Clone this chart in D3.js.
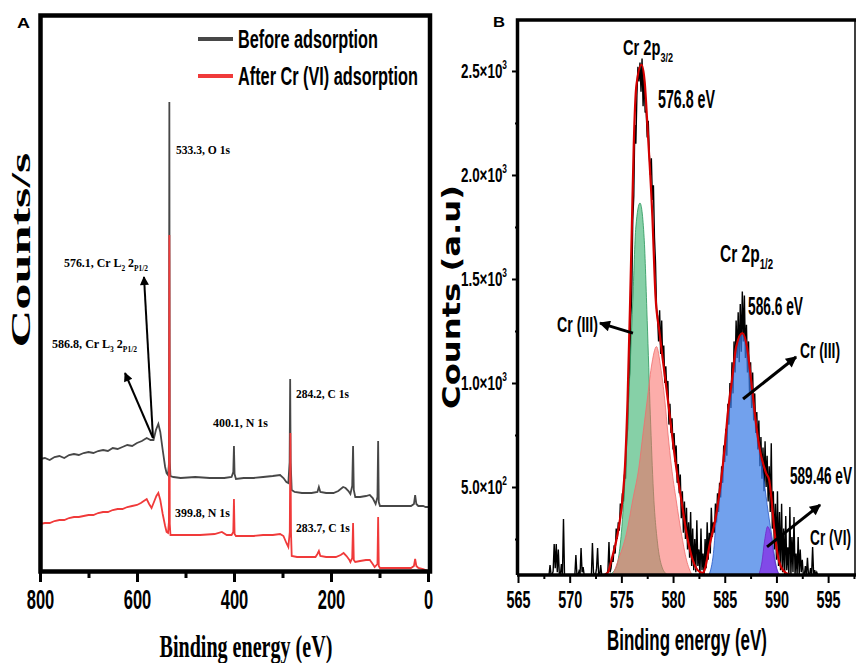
<!DOCTYPE html>
<html>
<head>
<meta charset="utf-8">
<script src="https://cdn.jsdelivr.net/npm/d3@7"></script>
<style>
  body { margin: 0; background: #fff; }
  svg { display: block; }
</style>
</head>
<body>
<svg id="chart" width="856" height="663"></svg>
<script>
// ---- panel A : survey spectra (binding energy eV, counts/s x1000)
const surveyTicks = [800, 600, 400, 200, 0]
const surveyMinor = [700, 500, 300, 100]
const surveyNames = ['Before adsorption', 'After Cr (VI) adsorption']
const surveyBefore = [[800,113],[790,114],[780,112],[770,115],[760,116],[750,114],[740,117],[730,118],[720,117],[710,119],[700,120],[690,119],[680,121],[670,122],[660,121],[650,124],[640,123],[630,125],[620,127],[610,126],[600,129],[590,131],[580,134],[572,132],[566,132],[561,142],[556,148],[552,140],[547,122],[542,105],[539,99],[536,97],[534.2,108],[533.3,470],[532.4,110],[531,96],[525,95],[510,94],[480,95],[450,94],[420,94],[405,95],[401.5,100],[400.1,126],[398.8,98],[396,93],[380,94],[360,94],[340,95],[320,96],[305,97],[298,94],[292,90],[288,89],[285.3,110],[284.2,193],[283.2,110],[281,82],[275,80],[260,79],[240,79],[228,80],[225,85],[222,80],[210,79],[195,79],[185,81],[175,85],[170,84],[164,81],[160,78],[156.3,86],[154.5,126],[153,82],[150,75],[140,75],[128,76],[120,77],[114,74],[108,68],[104.2,75],[102.8,131],[101.5,70],[99,66],[90,66],[70,66],[50,66],[35,66],[29,68],[26.5,77],[24,68],[20,66],[10,66],[5,65],[0,65]]
const surveyAfter = [[800,48],[790,49],[780,49],[770,51],[760,52],[750,52],[740,54],[730,55],[720,55],[710,56],[700,57],[690,57],[680,59],[670,60],[660,60],[650,62],[640,63],[630,63],[620,65],[610,66],[600,67],[592,69],[586,71],[580,73],[575,68],[570,64],[565,70],[560,76],[556,79],[552,72],[547,58],[542,46],[539,40],[536,39],[534.2,50],[533.3,337],[532.4,48],[531,37],[520,37],[500,37],[470,37],[440,38],[425,40],[415,37],[405,37],[401.5,40],[400.1,73],[398.8,38],[396,36],[380,36],[360,36],[340,37],[320,37],[305,38],[298,36],[292,29],[288,25],[285,40],[283.7,139],[282.5,40],[281,16],[270,15],[250,15],[232,15],[228,18],[225,21],[222,16],[210,15],[190,15],[180,17],[174,19],[168,16],[162,12],[160,10],[156.3,14],[154.5,49],[153,12],[150,10],[140,11],[128,12],[120,12],[114,8],[110,5],[104.2,8],[102.8,55],[101.5,6],[99,4],[90,4],[70,4],[50,4],[35,4],[29,6],[26.5,13],[24,6],[20,4],[10,3],[5,2],[0,1]]

// ---- panel B : Cr 2p high resolution (binding energy eV, counts)
const crTicks = [565, 570, 575, 580, 585, 590, 595]
const crMinor = [567.5, 572.5, 577.5, 582.5, 587.5, 592.5, 597.5]
const crYTicks = [500, 1000, 1500, 2000, 2500]
const crYMinor = [250, 750, 1250, 1750, 2250]
const rawStart = 567.8
const rawStep = 0.1
const rawCounts = [
  77,77,77,125,77,77,95,226,110,226,90,200,77,77,130,77,346,77,77,77,   // 567.8 - 569.7
  77,77,77,77,77,77,77,77,173,77,77,95,77,207,90,115,77,77,77,77,       // 569.8 - 571.7
  77,77,77,77,231,90,77,77,110,207,77,77,125,77,77,77,77,77,77,100,     // 571.8 - 573.7
  236,90,110,160,140,220,180,300,250,330,290,420,380,470,430,560,540,720,780,980, // 573.8 - 575.7
  1050,1300,1420,1780,1900,2240,2150,2380,2520,2450,2540,2400,2560,2330,2480,2300,2310,2180,2260,2100, // 575.8 - 577.7
  2000,2080,1880,1950,1700,1580,1360,1320,1200,1350,1140,1300,1100,1180,1000,1080,950,1010,800,900,   // 577.8 - 579.7
  760,830,680,760,620,700,520,610,470,560,350,480,280,430,250,400,200,330,160,380,   // 579.8 - 581.7
  120,300,100,250,90,340,120,200,77,300,100,180,77,250,110,330,150,280,180,400,      // 581.8 - 583.7
  260,330,280,420,330,470,380,520,450,600,520,700,620,780,650,900,800,1000,880,1100, // 583.8 - 585.7
  950,1200,1050,1300,1120,1340,1100,1380,1150,1440,1200,1420,1120,1280,1050,1200,950,1100,880,1050, // 585.8 - 587.7
  820,950,760,860,680,820,600,740,540,690,480,720,500,650,430,600,380,710,300,480,   // 587.8 - 589.7
  200,420,150,480,120,380,100,420,90,300,77,360,100,210,77,404,77,260,90,356,        // 589.8 - 591.7
  77,180,77,260,77,200,90,150,77,77,120,77,160,77,77,110,77,212,77,100,              // 591.8 - 593.7
  77,90,77                                                                            // 593.8 - 594.0
]
const envelope = [[573.4,80],[573.7,90],[574.04,149],[574.65,279],[575.1,438],[575.35,600],[575.6,920],[575.85,1400],[576.0,1720],[576.2,2150],[576.45,2430],[576.95,2530],[577.25,2450],[577.55,2210],[578.0,1800],[578.3,1420],[578.7,1240],[579.5,918],[580.3,596],[580.8,438],[581.3,279],[581.9,149],[582.6,91],[582.9,87],[583.1,110],[583.5,212],[584.2,375],[584.65,534],[585.0,692],[585.3,856],[585.7,1014],[586.1,1173],[586.7,1240],[587.15,1173],[587.55,1014],[587.9,856],[588.35,692],[589.0,567],[589.3,534],[589.5,452],[589.8,293],[590.3,135],[590.9,87],[591.3,80]]
const fitGreen = [[573.9,80],[574.5,115],[575.0,280],[575.4,590],[575.7,910],[576.1,1390],[576.4,1750],[576.8,1865],[577.2,1700],[577.5,1300],[577.8,850],[578.1,480],[578.5,230],[578.9,120],[579.4,80]]
const fitPink = [[574.2,80],[574.7,149],[575.5,279],[576.1,438],[576.7,596],[577.1,760],[577.5,918],[577.9,1077],[578.4,1175],[578.8,1077],[579.2,918],[579.5,760],[579.85,596],[580.3,438],[580.8,279],[581.3,149],[581.8,80]]
const fitBlue = [[583.5,80],[583.9,180],[584.2,360],[584.7,530],[585.0,690],[585.3,850],[585.7,1010],[586.1,1170],[586.7,1235],[587.1,1170],[587.6,1010],[587.9,850],[588.4,680],[588.8,530],[589.2,380],[589.6,250],[589.9,140],[590.2,80]]
const fitPurple = [[588.3,80],[588.6,140],[588.85,240],[589.15,310],[589.45,270],[589.75,170],[590.0,110],[590.3,80]]

const svg = d3.select('#chart')
const narrow = "'Liberation Sans Narrow', 'Arial Narrow', 'Liberation Sans', Arial, sans-serif"
const serif = "'Liberation Serif', 'Times New Roman', serif"

// text helper: parts = [[txt, 'sub'|'sup'|null], ...]
// the whole label is squeezed horizontally (scale) to the wanted width
function rich(g, x, y, parts, size, family, width, anchor) {
    const outer = g.append('g').attr('transform', `translate(${x},${y})`)
    const grp = outer.append('g')
    let cx = 0
    parts.forEach(p => {
        const fs = p[1] ? size * 0.62 : size
        let dy = 0
        if (p[1] === 'sub') dy = size * 0.3
        if (p[1] === 'sup') dy = -size * 0.42
        const t = grp.append('text')
            .attr('x', cx).attr('y', dy)
            .style('font-family', family)
            .style('font-weight', 'bold')
            .style('font-size', fs + 'px')
            .style('white-space', 'pre')
            .attr('fill', '#000')
            .text(p[0])
        cx += t.node().getComputedTextLength()
    })
    const k = width ? width / cx : 1
    let off = 0
    if (anchor === 'middle') off = -cx * k / 2
    if (anchor === 'end') off = -cx * k
    grp.attr('transform', `translate(${off},0) scale(${k},1)`)
    return outer
}

const defs = svg.append('defs')
function arrowMarker(id, w, h) {
    defs.append('marker')
        .attr('id', id)
        .attr('viewBox', '0 0 10 10')
        .attr('refX', 9).attr('refY', 5)
        .attr('markerUnits', 'userSpaceOnUse')
        .attr('markerWidth', w).attr('markerHeight', h)
        .attr('orient', 'auto')
        .append('path').attr('d', 'M0,0 L10,5 L0,10 Z').attr('fill', '#000')
}
arrowMarker('headA', 11, 9)
arrowMarker('headB', 14, 11)

// squeeze axis tick labels around their centre
function squeezeTicks(sel, perChar) {
    sel.each(function (d) {
        const len = this.getComputedTextLength()
        const k = String(d).length * perChar / len
        d3.select(this).attr('transform', `scale(${k},1)`)
    })
}

// =================== panel A ===================
const xA = d3.scaleLinear().domain([800, 0]).range([40, 428])
const yA = d3.scaleLinear().domain([0, 558]).range([572, 14])

defs.append('clipPath').attr('id', 'clipA')
    .append('rect').attr('x', 40).attr('y', 14).attr('width', 390).attr('height', 558)

const gA = svg.append('g')
const lineA = d3.line().x(d => xA(d[0])).y(d => yA(d[1]))
gA.append('path').datum(surveyBefore)
    .attr('d', lineA).attr('fill', 'none')
    .attr('stroke', '#474747').attr('stroke-width', 1.8)
    .attr('clip-path', 'url(#clipA)')
gA.append('path').datum(surveyAfter)
    .attr('d', lineA).attr('fill', 'none')
    .attr('stroke', '#f03a3a').attr('stroke-width', 1.8)
    .attr('clip-path', 'url(#clipA)')

// axis A
const axA = gA.append('g').attr('transform', 'translate(0,572)')
    .call(d3.axisBottom(xA).tickValues(surveyTicks).tickSize(10).tickSizeOuter(0).tickPadding(8))
axA.select('.domain').remove()
axA.selectAll('line').attr('stroke', '#000').attr('stroke-width', 3)
axA.selectAll('text')
    .style('font-family', narrow).style('font-weight', 'bold').style('font-size', '27px')
    .attr('fill', '#000')
    .call(squeezeTicks, 9.2)
const axAm = gA.append('g').attr('transform', 'translate(0,572)')
    .call(d3.axisBottom(xA).tickValues(surveyMinor).tickSize(6).tickSizeOuter(0).tickFormat(''))
axAm.select('.domain').remove()
axAm.selectAll('line').attr('stroke', '#000').attr('stroke-width', 3)

// frame A
gA.append('rect').attr('x', 40.5).attr('y', 15.5).attr('width', 389.5).attr('height', 556)
    .attr('fill', 'none').attr('stroke', '#000').attr('stroke-width', 4.5)

// titles A
rich(svg, 246, 657, [['Binding energy (eV)']], 32, serif, 173, 'middle')
rich(svg, 0, 0, [['Counts/s']], 27, serif, 195, 'middle')
    .attr('transform', 'translate(30,250) rotate(-90)')
rich(svg, 17, 28, [['A']], 14, "'Liberation Sans', Arial, sans-serif", 13)

// legend A
const legA = svg.append('g')
const legColors = ['#474747', '#f03a3a']
surveyNames.forEach((name, i) => {
    const yy = 39 + i * 37
    legA.append('line').attr('x1', 198).attr('x2', 233).attr('y1', yy).attr('y2', yy)
        .attr('stroke', legColors[i]).attr('stroke-width', 4)
    rich(legA, 238, yy + 9, [[name]], 25, narrow, i === 0 ? 140 : 180)
})

// annotations A
const annA = svg.append('g')
rich(annA, xA(519.6), yA(418), [['533.3, O 1s']], 13.5, serif, 54)
rich(annA, xA(750.5), yA(305), [['576.1, Cr L'], ['2', 'sub'], [' 2'], ['P1/2', 'sub']], 13.5, serif, 84)
rich(annA, xA(775.3), yA(224), [['586.8, Cr L'], ['3', 'sub'], [' 2'], ['P1/2', 'sub']], 13.5, serif, 85)
rich(annA, xA(443.3), yA(145), [['400.1, N 1s']], 13.5, serif, 55)
rich(annA, xA(272.2), yA(174), [['284.2, C 1s']], 13.5, serif, 53)
rich(annA, xA(521.6), yA(55), [['399.8, N 1s']], 13.5, serif, 55)
rich(annA, xA(272.2), yA(40), [['283.7, C 1s']], 13.5, serif, 54)
annA.append('line')
    .attr('x1', xA(567)).attr('y1', yA(134)).attr('x2', xA(585.6)).attr('y2', yA(295))
    .attr('stroke', '#000').attr('stroke-width', 2).attr('marker-end', 'url(#headA)')
annA.append('line')
    .attr('x1', xA(567)).attr('y1', yA(134)).attr('x2', xA(624.7)).attr('y2', yA(199))
    .attr('stroke', '#000').attr('stroke-width', 2).attr('marker-end', 'url(#headA)')

// =================== panel B ===================
const xB = d3.scaleLinear().domain([565, 597.6]).range([518, 855])
const yB = d3.scaleLinear().domain([77, 2745]).range([575, 20])

defs.append('clipPath').attr('id', 'clipB')
    .append('rect').attr('x', 518).attr('y', 20).attr('width', 337).attr('height', 555)

const gB = svg.append('g').attr('clip-path', 'url(#clipB)')
const raw = rawCounts.map((v, i) => [rawStart + i * rawStep, v])
gB.append('path').datum(raw)
    .attr('d', d3.line().x(d => xB(d[0])).y(d => yB(d[1])))
    .attr('fill', 'none').attr('stroke', '#000').attr('stroke-width', 1.4)

const areaB = d3.area().curve(d3.curveMonotoneX)
    .x(d => xB(d[0])).y0(yB(77)).y1(d => yB(d[1]))
const fits = [
    { data: fitGreen, fill: 'rgb(60,179,113)', op: 0.62, stroke: 'rgb(40,150,90)' },
    { data: fitPink, fill: 'rgb(250,105,100)', op: 0.55, stroke: 'rgb(240,110,110)' },
    { data: fitBlue, fill: 'rgb(60,125,230)', op: 0.72, stroke: 'rgb(40,90,200)' },
    { data: fitPurple, fill: 'rgb(135,45,230)', op: 0.75, stroke: 'rgb(110,40,200)' }
]
fits.forEach(f => {
    gB.append('path').datum(f.data).attr('d', areaB)
        .attr('fill', f.fill).attr('fill-opacity', f.op)
        .attr('stroke', f.stroke).attr('stroke-opacity', 0.8).attr('stroke-width', 1)
})
gB.append('path').datum(envelope)
    .attr('d', d3.line().curve(d3.curveMonotoneX).x(d => xB(d[0])).y(d => yB(d[1])))
    .attr('fill', 'none').attr('stroke', '#d40000').attr('stroke-width', 2.2)

// axes B
const axB = svg.append('g').attr('transform', 'translate(0,575)')
    .call(d3.axisBottom(xB).tickValues(crTicks).tickSize(8).tickSizeOuter(0).tickPadding(9))
axB.select('.domain').remove()
axB.selectAll('line').attr('stroke', '#000').attr('stroke-width', 2)
axB.selectAll('text')
    .style('font-family', narrow).style('font-weight', 'bold').style('font-size', '23px')
    .attr('fill', '#000')
    .call(squeezeTicks, 8)
const axBm = svg.append('g').attr('transform', 'translate(0,575)')
    .call(d3.axisBottom(xB).tickValues(crMinor).tickSize(4).tickSizeOuter(0).tickFormat(''))
axBm.select('.domain').remove()
axBm.selectAll('line').attr('stroke', '#000').attr('stroke-width', 2)

const ayB = svg.append('g').attr('transform', 'translate(518,0)')
    .call(d3.axisLeft(yB).tickValues(crYTicks).tickSize(6).tickSizeOuter(0).tickFormat(''))
ayB.select('.domain').remove()
ayB.selectAll('line').attr('stroke', '#000').attr('stroke-width', 2)
const ayBm = svg.append('g').attr('transform', 'translate(518,0)')
    .call(d3.axisLeft(yB).tickValues(crYMinor).tickSize(3).tickSizeOuter(0).tickFormat(''))
ayBm.select('.domain').remove()
ayBm.selectAll('line').attr('stroke', '#000').attr('stroke-width', 2)

crYTicks.forEach(v => {
    const ex = Math.floor(Math.log10(v))
    const mant = (v / Math.pow(10, ex)).toFixed(1)
    rich(svg, 507, yB(v) + 7, [[mant + '×10'], [String(ex), 'sup']], 21, narrow, 46, 'end')
})

// frame B
svg.append('path')
    .attr('d', 'M517.5,575 L517.5,20 L856,20')
    .attr('fill', 'none').attr('stroke', '#000').attr('stroke-width', 3.5)
svg.append('line').attr('x1', 517).attr('x2', 856).attr('y1', 575).attr('y2', 575)
    .attr('stroke', '#000').attr('stroke-width', 3.5)
svg.append('line').attr('x1', 855).attr('x2', 855).attr('y1', 20).attr('y2', 575)
    .attr('stroke', '#000').attr('stroke-width', 1.5)

rich(svg, 687, 650, [['Binding energy (eV)']], 29, narrow, 160, 'middle')
rich(svg, 0, 0, [['Counts (a.u)']], 25, "'DejaVu Sans', Verdana, sans-serif", 224, 'middle')
    .attr('transform', 'translate(460,297) rotate(-90)')
rich(svg, 493, 27, [['B']], 14, "'Liberation Sans', Arial, sans-serif", 12)

// annotations B
const annB = svg.append('g')
rich(annB, xB(575.16), yB(2577), [['Cr 2p'], ['3/2', 'sub']], 22, narrow, 50)
rich(annB, xB(578.54), yB(2322), [['576.8 eV']], 26, narrow, 57)
rich(annB, xB(584.54), yB(1582), [['Cr 2p'], ['1/2', 'sub']], 23, narrow, 53)
rich(annB, xB(587.25), yB(1327), [['586.6 eV']], 25, narrow, 55)
rich(annB, xB(568.77), yB(1245), [['Cr (III)']], 22, narrow, 41)
rich(annB, xB(592.28), yB(1120), [['Cr (III)']], 22, narrow, 40)
rich(annB, xB(591.31), yB(514), [['589.46 eV']], 24, narrow, 62)
rich(annB, xB(593.25), yB(221), [['Cr (VI)']], 22, narrow, 41)
const arrowsB = [
    [576.12, 1240, 572.93, 1288],
    [586.77, 923, 591.9, 1125],
    [589.09, 212, 594.22, 414]
]
arrowsB.forEach(a => {
    annB.append('line')
        .attr('x1', xB(a[0])).attr('y1', yB(a[1])).attr('x2', xB(a[2])).attr('y2', yB(a[3]))
        .attr('stroke', '#000').attr('stroke-width', 3).attr('marker-end', 'url(#headB)')
})
</script>
</body>
</html>
